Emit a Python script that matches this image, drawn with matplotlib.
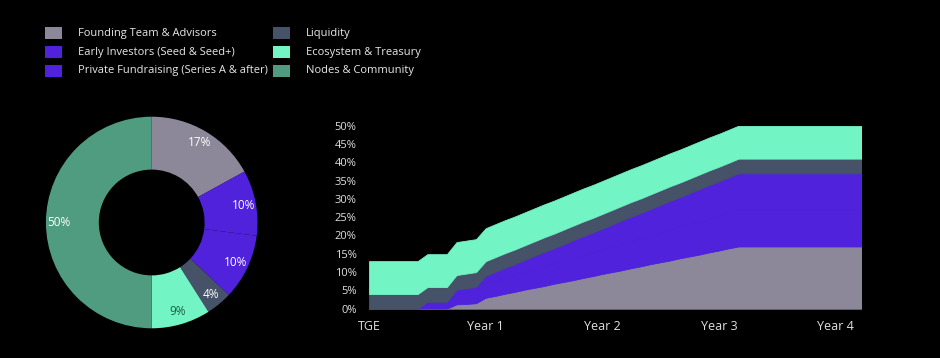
import numpy as np
import matplotlib.pyplot as plt
from matplotlib.patches import Rectangle

plt.rcParams['font.family'] = ['Open Sans', 'DejaVu Sans']

# allocation (donut)
categories = ["Founding Team & Advisors", "Early Investors (Seed & Seed+)",
              "Private Fundraising (Series A & after)", "Liquidity",
              "Ecosystem & Treasury", "Nodes & Community"]
shares = [17, 10, 10, 4, 9, 50]
colors = ["#8c889a", "#5022dc", "#5022dc", "#465268", "#72f4c4", "#4f9c80"]
label_colors = ["white", "white", "white", "white", "#1f5c46", "white"]

# unlock schedule, % of supply, by month after TGE
months = np.arange(52)
founding = [0] * 9 + [1.2, 1.3, 1.5] + [3.0, 3.5, 4.1, 4.6, 5.2, 5.7, 6.2, 6.8, 7.3, 7.8, 8.4,
                                        8.9, 9.5, 10.0, 10.5, 11.1, 11.6, 12.2, 12.7, 13.2,
                                        13.8, 14.3, 14.8, 15.4, 15.9, 16.5] + [17] * 14
early = [0] * 6 + [1.9] * 3 + [2.9, 3.1, 3.3, 4.0, 4.2, 4.5, 4.7, 4.9, 5.2, 5.4, 5.6, 5.8,
                               6.1, 6.3, 6.5, 6.8, 7.0, 7.2, 7.5, 7.7, 7.9, 8.2, 8.4, 8.6,
                               8.8, 9.1, 9.3, 9.5, 9.8] + [10] * 14
private = [0] * 9 + [1.1, 1.2, 1.2, 2.0, 2.4, 2.6, 2.9, 3.2, 3.5, 3.9, 4.1, 4.5, 4.8, 5.1,
                     5.4, 5.6, 6.0, 6.4, 6.6, 6.9, 7.2, 7.5, 7.9, 8.1, 8.5, 8.8, 9.1, 9.4,
                     9.6] + [10] * 14
liquidity = [4] * 52
ecosystem = [9] * 52
year_ticks = [0, 12, 24, 36, 48]
year_labels = ["TGE", "Year 1", "Year 2", "Year 3", "Year 4"]
pct_ticks = [0, 5, 10, 15, 20, 25, 30, 35, 40, 45, 50]

fig = plt.figure(figsize=(9.4, 3.58), dpi=100, facecolor="black")

# legend (manual)
leg_x = [45, 273]
leg_y = [33.3, 52.3, 70.7]
for i, name in enumerate(categories):
    col, row = divmod(i, 3)
    x0 = leg_x[col] / 940
    y0 = 1 - (leg_y[row] + 6) / 358
    fig.patches.append(Rectangle((x0, y0), 17 / 940, 12 / 358, transform=fig.transFigure,
                                 facecolor=colors[i], edgecolor="none"))
    fig.text(x0 + 33 / 940, 1 - leg_y[row] / 358, name, color="#e8e8e8", fontsize=8,
             va="center", ha="left")

# donut
ax1 = fig.add_axes([0.0207, 0.0091, 0.2814, 0.7388])
ax1.set_facecolor("black")
wedges, texts, autotexts = ax1.pie(shares, colors=colors, startangle=90, counterclock=False,
                                   autopct="%d%%", pctdistance=0.88,
                                   wedgeprops=dict(width=0.5, linewidth=0),
                                   textprops=dict(fontsize=8.5))
for t, c in zip(autotexts, label_colors):
    t.set_color(c)

# vesting area chart
ax2 = fig.add_axes([0.3926, 0.1377, 0.5234, 0.5112])
ax2.set_facecolor("black")
ax2.stackplot(months, founding, early, private, liquidity, ecosystem,
              colors=[colors[0], colors[1], colors[2], colors[3], colors[4]],
              edgecolor="face", linewidth=0.6)
ax2.set_xlim(0, 50.6)
ax2.set_ylim(0, 50)
ax2.set_xticks(year_ticks)
ax2.set_xticklabels(year_labels, fontsize=9, color="#e0e0e0")
ax2.set_yticks(pct_ticks)
ax2.set_yticklabels([f"{p}%" for p in pct_ticks], fontsize=8, color="#e0e0e0")
ax2.tick_params(axis="both", length=0)
ax2.tick_params(axis="y", pad=9)
ax2.tick_params(axis="x", pad=8)
for s in ax2.spines.values():
    s.set_visible(False)

plt.savefig("out.png", dpi=100, facecolor="black")
